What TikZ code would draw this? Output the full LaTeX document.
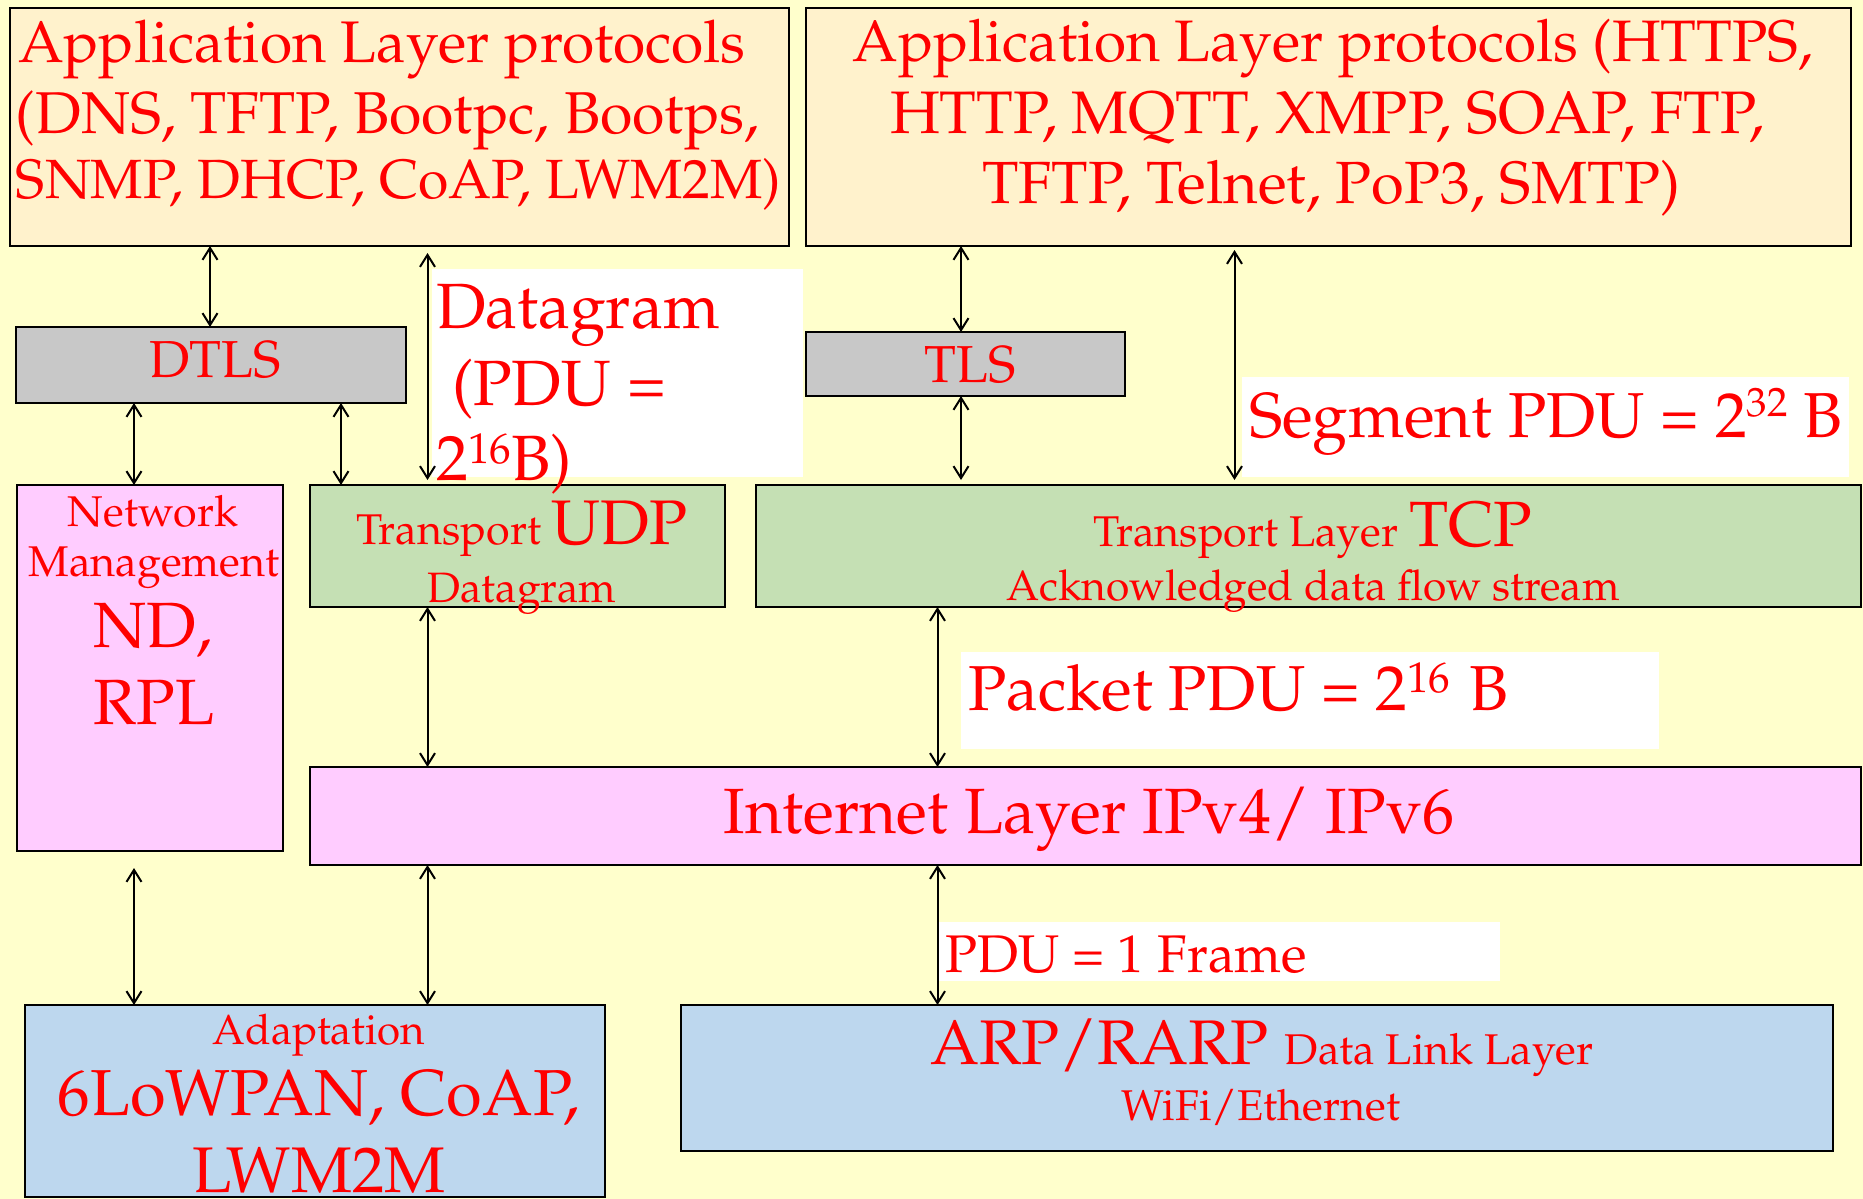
\documentclass[tikz,border=0pt]{standalone}
\usepackage[T1]{fontenc}
\renewcommand{\rmdefault}{ppl}
\usetikzlibrary{arrows.meta,calc}
\definecolor{bgc}{HTML}{FFFFCC}
\definecolor{appc}{HTML}{FFF2CC}
\definecolor{grayc}{HTML}{C8C8C8}
\definecolor{pinkc}{HTML}{FFCCFF}
\definecolor{greenc}{HTML}{C5E0B4}
\definecolor{bluec}{HTML}{BDD7EE}
\newcommand{\fs}[1]{\fontsize{#1}{#1}\selectfont}
\newcommand{\sups}[3]{\raisebox{#2pt}{\fontsize{#1}{#1}\selectfont #3}}
\tikzset{
  box/.style={draw=black, line width=2pt, inner sep=0pt, outer sep=0pt, anchor=north west},
  wht/.style={fill=white, draw=none, inner sep=0pt, outer sep=0pt, anchor=north west},
  lbl/.style={text=red, inner sep=0pt, outer sep=0pt, anchor=base},
  lblw/.style={text=red, inner sep=0pt, outer sep=0pt, anchor=base west},
  dbl/.style={line width=2pt, {Straight Barb[length=12pt,width=15pt]}-{Straight Barb[length=12pt,width=15pt]}}
}
\begin{document}
\begin{tikzpicture}[x=1pt,y=-1pt]
\useasboundingbox (0,0) rectangle (1863,1199);
\fill[bgc] (0,0) rectangle (1863,1199);
% white label backgrounds
\node[wht, minimum width=371pt, minimum height=208pt] (wDg) at (432,269) {};
\node[wht, minimum width=607pt, minimum height=100pt] (wSeg) at (1242,377) {};
\node[wht, minimum width=698pt, minimum height=97pt] (wPkt) at (961,652) {};
\node[wht, minimum width=563pt, minimum height=59pt] (wFr) at (937,922) {};
% boxes
\node[box, fill=appc, minimum width=779pt, minimum height=238pt] (appL) at (10,8) {};
\node[box, fill=appc, minimum width=1045pt, minimum height=238pt] (appR) at (806,8) {};
\node[box, fill=grayc, minimum width=390pt, minimum height=76pt] (dtls) at (16,327) {};
\node[box, fill=grayc, minimum width=319pt, minimum height=64pt] (tls) at (806,332) {};
\node[box, fill=pinkc, minimum width=266pt, minimum height=366pt] (nm) at (17,485) {};
\node[box, fill=greenc, minimum width=415pt, minimum height=122pt] (udp) at (310,485) {};
\node[box, fill=greenc, minimum width=1105pt, minimum height=122pt] (tcp) at (756,485) {};
\node[box, fill=pinkc, minimum width=1551pt, minimum height=98pt] (inet) at (310,767) {};
\node[box, fill=bluec, minimum width=580pt, minimum height=192pt] (adapt) at (25,1005) {};
\node[box, fill=bluec, minimum width=1152pt, minimum height=146pt] (arp) at (681,1005) {};
% arrow x positions
\coordinate (cx1) at (210,0);
\coordinate (cx2) at (427.5,0);
\coordinate (cx3) at (134,0);
\coordinate (cx4) at (341,0);
\coordinate (cx5) at (961,0);
\coordinate (cx6) at (1234.5,0);
\coordinate (cx9) at (937.5,0);
% arrows
\draw[dbl] (appL.south -| cx1) -- (dtls.north -| cx1);
\draw[dbl] ($(appL.south -| cx2)+(0,7)$) -- ($(udp.north -| cx2)+(0,-5)$);
\draw[dbl] (dtls.south -| cx3) -- (nm.north -| cx3);
\draw[dbl] (dtls.south -| cx4) -- (udp.north -| cx4);
\draw[dbl] (appR.south -| cx5) -- (tls.north -| cx5);
\draw[dbl] ($(appR.south -| cx6)+(0,4)$) -- ($(tcp.north -| cx6)+(0,-5)$);
\draw[dbl] (tls.south -| cx5) -- ($(tcp.north -| cx5)+(0,-5)$);
\draw[dbl] (udp.south -| cx2) -- (inet.north -| cx2);
\draw[dbl] (tcp.south -| cx9) -- (inet.north -| cx9);
\draw[dbl] ($(nm.south -| cx3)+(0,17)$) -- (adapt.north -| cx3);
\draw[dbl] (inet.south -| cx2) -- (adapt.north -| cx2);
\draw[dbl] (inet.south -| cx9) -- (arp.north -| cx9);
% texts
\node[lblw] (tAL1) at (18,63) {\fs{58.7}Application Layer protocols};
\node[lblw] (tAL2) at (16,133) {\fs{59}(DNS, TFTP, Bootpc, Bootps,};
\node[lblw] (tAL3) at (16,198) {\fs{55.3}SNMP, DHCP, CoAP, LWM2M)};
\node[lbl] (tAR1) at (1333,62) {\fs{58.5}Application Layer protocols (HTTPS,};
\node[lbl] (tAR2) at (1327,133) {\fs{60}HTTP, MQTT, XMPP, SOAP, FTP,};
\node[lbl] (tAR3) at (1331,203) {\fs{59.6}TFTP, Telnet, PoP3, SMTP)};
\node[lbl] (tDTLS) at (215,377) {\fs{52}DTLS};
\node[lbl] (tTLS) at (970,382) {\fs{52}TLS};
\node[lbl] (tNM1) at (153,526) {\fs{43}Network};
\node[lbl] (tNM2) at (154,576) {\fs{43}Management};
\node[lbl] (tNM3) at (153,647) {\fs{64}ND,};
\node[lbl] (tNM4) at (154,724) {\fs{64}RPL};
\node[lbl] (tUDP1) at (522,544) {{\fs{43}Transport }{\fs{63}UDP}};
\node[lbl] (tUDP2) at (522,602) {\fs{42.5}Datagram};
\node[lbl] (tTCP1) at (1313,546) {{\fs{43}Transport Layer }{\fs{64}TCP}};
\node[lbl] (tTCP2) at (1313,600) {\fs{42.5}Acknowledged data flow stream};
\node[lbl] (tIN) at (1089,833) {\fs{64}Internet Layer IPv4/ IPv6};
\node[lbl] (tAD1) at (319,1044) {\fs{42}Adaptation};
\node[lbl] (tAD2) at (319,1115) {\fs{65}6LoWPAN, CoAP,};
\node[lbl] (tAD3) at (319,1192) {\fs{64.5}LWM2M};
\node[lbl] (tARP1) at (1262,1064) {{\fs{63}ARP/RARP }{\fs{43}Data Link Layer}};
\node[lbl] (tARP2) at (1261,1120) {\fs{43}WiFi/Ethernet};
\node[lblw] (tDg1) at (436,328) {\fs{64}Datagram};
\node[lblw] (tDg2) at (452,405) {\fs{64}(PDU =};
\node[lblw] (tDg3) at (436,480) {\fs{64}2\sups{43}{17}{16}B)};
\node[lblw] (tSeg) at (1249,437) {\fs{63.5}Segment PDU = 2\sups{41}{21}{32} B};
\node[lblw] (tPkt) at (968,710) {\fs{63.5}Packet PDU = 2\sups{43}{18}{16}\hspace{3pt} B};
\node[lblw] (tFr) at (945,972) {\fs{53}PDU = 1 Frame};
\end{tikzpicture}
\end{document}
